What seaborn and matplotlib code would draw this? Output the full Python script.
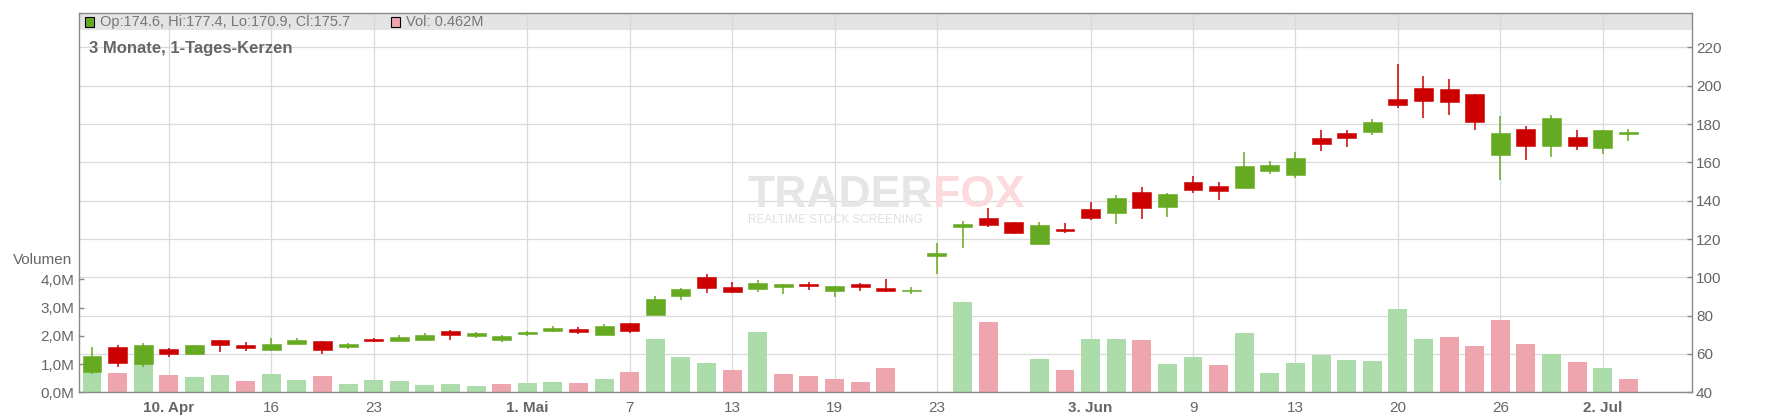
#!/usr/bin/env python3
import numpy as np
import pandas as pd
import matplotlib
matplotlib.use("Agg")
import matplotlib.pyplot as plt
from matplotlib.patches import Rectangle
import seaborn as sns

# Daily candles, 3 months (index = trading day)
opens = [50.6, 63.6, 54.8, 62.6, 60.1, 67.3, 64.7, 62.1, 65.2, 66.8,
         63.6, 67.8, 66.8, 67.3, 72.0, 69.4, 67.3, 70.4, 72.0, 73.0,
         69.9, 76.2, 80.3, 90.2, 100.2, 94.9, 93.9, 95.0, 96.5, 92.9,
         96.5, 94.4, 92.9, 111.1, 126.4, 130.9, 128.8, 117.5, 125.2, 135.6,
         133.5, 144.4, 136.7, 149.7, 147.6, 146.6, 155.5, 153.4, 172.7, 175.3,
         175.8, 193.0, 198.8, 198.3, 195.6, 164.0, 177.4, 168.7, 173.2, 167.6,
         174.6]
highs = [63.6, 64.7, 65.7, 63.1, 64.7, 67.3, 66.2, 68.3, 68.3, 66.8,
         65.7, 68.3, 69.9, 70.9, 72.5, 71.5, 69.9, 72.0, 74.6, 74.1,
         75.6, 76.2, 90.3, 94.4, 101.7, 97.5, 98.6, 96.5, 97.5, 95.5,
         97.0, 99.1, 95.0, 117.9, 129.4, 136.2, 128.8, 128.8, 128.3, 139.3,
         142.9, 147.1, 144.0, 152.9, 149.7, 165.4, 160.7, 165.4, 176.8, 176.8,
         182.6, 211.3, 205.0, 203.5, 195.6, 184.2, 178.9, 184.7, 176.9, 176.9,
         177.4]
lows = [49.7, 53.4, 53.4, 58.6, 59.6, 61.2, 61.5, 61.7, 65.2, 60.1,
        62.6, 66.2, 66.8, 67.3, 67.3, 68.3, 66.2, 69.4, 71.5, 70.4,
        69.9, 71.0, 80.3, 88.2, 91.8, 91.8, 92.3, 91.3, 93.4, 89.7,
        92.8, 92.3, 91.3, 101.7, 115.4, 126.3, 122.8, 117.5, 123.3, 130.0,
        127.8, 130.4, 131.4, 144.0, 140.3, 146.6, 154.0, 152.0, 165.9, 168.0,
        174.2, 188.3, 183.3, 184.8, 177.0, 150.9, 161.4, 162.9, 166.6, 164.5,
        170.9]
closes = [58.9, 55.4, 64.7, 60.1, 64.7, 64.9, 63.1, 65.2, 67.3, 62.1,
          65.2, 66.8, 68.8, 69.9, 70.0, 71.0, 69.4, 71.5, 73.5, 71.5,
          74.6, 72.0, 88.7, 93.9, 94.4, 92.3, 97.0, 96.5, 95.6, 95.3,
          95.0, 92.9, 93.4, 112.7, 127.8, 127.3, 123.3, 127.3, 124.3, 131.1,
          141.3, 136.2, 143.4, 145.6, 145.2, 158.1, 158.6, 162.3, 169.6, 172.7,
          181.0, 189.9, 192.1, 191.7, 181.2, 175.3, 168.7, 183.1, 168.7, 176.9,
          175.7]
# volume in millions (0 = no volume reported)
volumes = [0.73, 0.68, 1.00, 0.61, 0.54, 0.61, 0.40, 0.65, 0.44, 0.58,
           0.29, 0.44, 0.40, 0.26, 0.29, 0.22, 0.29, 0.33, 0.37, 0.33,
           0.47, 0.72, 1.89, 1.25, 1.04, 0.79, 2.14, 0.65, 0.58, 0.47,
           0.37, 0.86, 0.0, 0.0, 3.20, 2.49, 0.0, 1.18, 0.79, 1.89,
           1.89, 1.85, 1.00, 1.25, 0.97, 2.10, 0.68, 1.04, 1.32, 1.14,
           1.11, 2.95, 1.89, 1.96, 1.64, 2.56, 1.71, 1.36, 1.07, 0.86,
           0.462]

tick_pos = [3, 7, 11, 17, 21, 25, 29, 33, 39, 43, 47, 51, 55, 59]
tick_labels = ["10. Apr", "16", "23", "1. Mai", "7", "13", "19", "23",
               "3. Jun", "9", "13", "20", "26", "2. Jul"]
tick_bold = [True, False, False, True, False, False, False, False,
             True, False, False, False, False, True]

price_ticks = list(range(40, 221, 20))
vol_ticks = [0, 1, 2, 3, 4]
vol_tick_labels = ["0,0M", "1,0M", "2,0M", "3,0M", "4,0M"]

GREEN = "#66aa22"
RED = "#cc0000"
VOL_UP = "#acdcaa"
VOL_DN = "#eea5ad"
TXT = "#666666"
GRID = "#dadada"
SPINE = "#8a8a8a"

W, H = 1776, 420


def px(x, y):
    """Pixel position (from top-left) to figure fraction"""
    return x / W, 1 - y / H


def main():
    sns.set_theme(style="white")
    plt.rcParams['font.family'] = ['Liberation Sans', 'DejaVu Sans']

    n = len(closes)
    idx = np.arange(n)
    o = np.array(opens)
    c = np.array(closes)
    prev = np.concatenate([[o[0]], c[:-1]])
    vol_dir = np.where(c >= prev, "up", "down")

    fig = plt.figure(figsize=(W / 100, H / 100), dpi=100)
    left, right, top, bottom = 79.2, 1692.3, 12.5, 392.3
    rect = [left / W, 1 - bottom / H, (right - left) / W, (bottom - top) / H]

    # base axes: grid + price labels on the right
    ax = fig.add_axes(rect)
    ax.set_zorder(0)
    # volume axes (left scale) - twinx moves base ticks, so set those after
    ax_vol = ax.twinx()
    ax_vol.set_zorder(1)
    ax_vol.patch.set_visible(False)

    ax.set_xlim(-0.5, 62.5)
    ax.set_ylim(40, 238.2)
    ax.yaxis.tick_right()
    ax.yaxis.set_label_position("right")
    ax.set_yticks(price_ticks)
    ax.set_yticklabels([str(p) for p in price_ticks])
    ax.set_xticks(tick_pos)
    ax.set_xticklabels(tick_labels)
    for lab, b in zip(ax.get_xticklabels(), tick_bold):
        if b:
            lab.set_fontweight("bold")
    ax.tick_params(axis='x', direction='out', length=2.5, width=1.0, color=SPINE,
                   pad=4, labelsize=11, labelcolor=TXT)
    ax.tick_params(axis='y', direction='in', length=3.5, width=1.0, color=SPINE,
                   pad=2.6, labelsize=11, labelcolor=TXT)
    ax.grid(True, color=GRID, linewidth=0.9)
    ax.set_axisbelow(True)
    for s in ax.spines.values():
        s.set_visible(False)

    # header band
    ax.add_patch(Rectangle((0, 0.9539), 1, 0.0461, transform=ax.transAxes,
                           facecolor="#e4e4e4", edgecolor="none", zorder=0.3))

    # watermark
    ax.text(*px(933, 207), "TRADER", transform=fig.transFigure, ha="right",
            va="baseline", fontsize=32, fontweight="bold", color="#e6e6e6", zorder=0.8)
    ax.text(*px(933, 207), "FOX", transform=fig.transFigure, ha="left",
            va="baseline", fontsize=32, fontweight="bold", color="#fcdade", zorder=0.8)
    ax.text(*px(835, 223), "REALTIME STOCK SCREENING", transform=fig.transFigure,
            ha="center", va="baseline", fontsize=8.5, color="#e0e0e0", zorder=0.8)

    df = pd.DataFrame({"idx": idx, "vol": volumes, "dir": vol_dir})
    sns.barplot(data=df, x="idx", y="vol", hue="dir",
                palette={"up": VOL_UP, "down": VOL_DN}, native_scale=True,
                width=0.74, dodge=False, errorbar=None, saturation=1,
                legend=False, linewidth=0, ax=ax_vol)
    ax_vol.set_xlim(-0.5, 62.5)
    ax_vol.set_ylim(0, 13.44)
    ax_vol.yaxis.tick_left()
    ax_vol.set_yticks(vol_ticks)
    ax_vol.set_yticklabels(vol_tick_labels)
    ax_vol.tick_params(axis='y', direction='in', length=3.5, width=1.0, color=SPINE,
                       pad=3.3, labelsize=11, labelcolor=TXT)
    ax_vol.set_xlabel("")
    ax_vol.set_ylabel("")
    for s in ax_vol.spines.values():
        s.set_visible(False)

    # candle axes on top
    ax_c = fig.add_axes(rect, sharex=ax, sharey=ax)
    ax_c.set_zorder(2)
    ax_c.patch.set_visible(False)
    ax_c.tick_params(left=False, right=False, bottom=False, top=False,
                     labelleft=False, labelright=False, labelbottom=False)
    ax_c.grid(False)
    colors = np.where(c >= o, GREEN, RED)
    ax_c.vlines(idx, lows, highs, colors=colors, linewidth=1.1)
    ax_c.bar(idx, np.abs(c - o), bottom=np.minimum(o, c), width=0.74,
             color=colors, edgecolor=colors, linewidth=0.4)
    for s in ax_c.spines.values():
        s.set_visible(True)
        s.set_color(SPINE)
        s.set_linewidth(1.0)

    # header texts
    fig.patches.append(Rectangle(px(85, 26.5), 9 / W, 9 / H, transform=fig.transFigure,
                                 facecolor=GREEN, edgecolor="black", linewidth=0.8))
    fig.text(*px(100.3, 22.3), "Op:174.6, Hi:177.4, Lo:170.9, Cl:175.7",
             fontsize=10.5, color="#777777", va="center")
    fig.patches.append(Rectangle(px(391, 26.5), 9 / W, 9 / H, transform=fig.transFigure,
                                 facecolor=VOL_DN, edgecolor="black", linewidth=0.8))
    fig.text(*px(406.4, 22.3), "Vol: 0.462M", fontsize=10.5, color="#777777", va="center")
    fig.text(*px(88.8, 48.3), "3 Monate, 1-Tages-Kerzen", fontsize=12,
             fontweight="bold", color=TXT, va="center")
    fig.text(*px(72, 260), "Volumen", fontsize=11, color=TXT, ha="right", va="center")

    fig.savefig("out.png", dpi=100)


if __name__ == "__main__":
    main()
